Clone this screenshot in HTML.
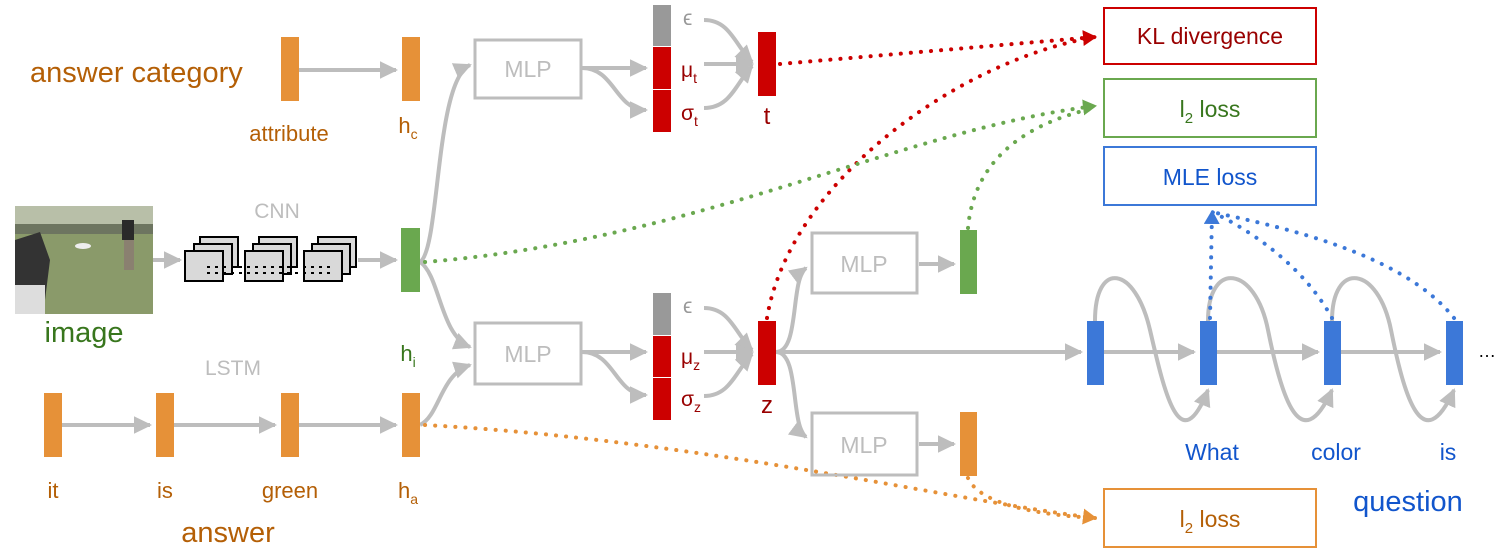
<!DOCTYPE html>
<html><head><meta charset="utf-8"><style>
html,body{margin:0;padding:0;background:#fff;}
svg{display:block;font-family:"Liberation Sans",sans-serif;}
</style></head><body>
<svg width="1502" height="560" viewBox="0 0 1502 560">
<defs>
<marker id="ag" markerWidth="5" markerHeight="5" refX="4" refY="2.2" orient="auto" markerUnits="strokeWidth"><path d="M0,0 L4.5,2.2 L0,4.4 z" fill="#bdbdbd"/></marker>
<marker id="ar" markerWidth="5" markerHeight="5" refX="3" refY="2" orient="auto" markerUnits="strokeWidth"><path d="M0,0 L3.5,2 L0,4 z" fill="#cc0000"/></marker>
<marker id="agr" markerWidth="5" markerHeight="5" refX="3" refY="2" orient="auto" markerUnits="strokeWidth"><path d="M0,0 L3.5,2 L0,4 z" fill="#6aa84f"/></marker>
<marker id="ab" markerWidth="5" markerHeight="5" refX="3" refY="2" orient="auto" markerUnits="strokeWidth"><path d="M0,0 L3.5,2 L0,4 z" fill="#3c78d8"/></marker>
<marker id="ao" markerWidth="5" markerHeight="5" refX="3" refY="2" orient="auto" markerUnits="strokeWidth"><path d="M0,0 L3.5,2 L0,4 z" fill="#e69138"/></marker>
</defs>

<g fill="none" stroke="#bdbdbd" stroke-width="4">
<path d="M298,70 L396,70" marker-end="url(#ag)"/>
<path d="M420,262 C440,250 435,80 470,65" marker-end="url(#ag)"/>
<path d="M420,262 C440,275 440,335 470,347" marker-end="url(#ag)"/>
<path d="M420,425 C440,415 440,375 470,365" marker-end="url(#ag)"/>
<path d="M152,260 L180,260" marker-end="url(#ag)"/>
<path d="M358,260 L396,260" marker-end="url(#ag)"/>
<path d="M62,425 L150,425" marker-end="url(#ag)"/>
<path d="M174,425 L275,425" marker-end="url(#ag)"/>
<path d="M299,425 L396,425" marker-end="url(#ag)"/>
<path d="M582,68 L646,68" marker-end="url(#ag)"/>
<path d="M582,68 C615,68 615,110 646,110" marker-end="url(#ag)"/>
<path d="M582,352 L646,352" marker-end="url(#ag)"/>
<path d="M582,352 C615,352 615,395 646,395" marker-end="url(#ag)"/>
<path d="M704,20 C730,20 735,45 752,62" marker-end="url(#ag)"/>
<path d="M704,64 L752,64" marker-end="url(#ag)"/>
<path d="M704,108 C730,108 735,85 752,66" marker-end="url(#ag)"/>
<path d="M704,308 C730,308 735,333 752,350" marker-end="url(#ag)"/>
<path d="M704,352 L752,352" marker-end="url(#ag)"/>
<path d="M704,396 C730,396 735,372 752,354" marker-end="url(#ag)"/>
<path d="M776,352 C800,352 790,280 806,268" marker-end="url(#ag)"/>
<path d="M776,352 C800,352 790,425 806,437" marker-end="url(#ag)"/>
<path d="M776,352 L1081,352" marker-end="url(#ag)"/>
<path d="M919,264 L954,264" marker-end="url(#ag)"/>
<path d="M919,444 L954,444" marker-end="url(#ag)"/>
<path d="M1104,352 L1194,352" marker-end="url(#ag)"/>
<path d="M1217,352 L1318,352" marker-end="url(#ag)"/>
<path d="M1341,352 L1440,352" marker-end="url(#ag)"/>
<path d="M1095,321 C1095,260 1135,265 1150,330 S1180,460 1208,390" marker-end="url(#ag)"/>
<path d="M1208,321 C1208,260 1255,265 1268,330 S1300,460 1332,390" marker-end="url(#ag)"/>
<path d="M1332,321 C1332,260 1378,265 1391,330 S1422,460 1454,390" marker-end="url(#ag)"/>
</g>

<g fill="none" stroke-width="4" stroke-dasharray="0.1 10" stroke-linecap="round">
<path d="M780,64 L1095,37" stroke="#cc0000" marker-end="url(#ar)"/>
<path d="M767,318 C790,180 960,60 1095,37" stroke="#cc0000"/>
<path d="M425,262 C700,240 900,130 1095,106" stroke="#6aa84f" marker-end="url(#agr)"/>
<path d="M968,228 C975,150 1040,120 1095,108" stroke="#6aa84f"/>
<path d="M1210,318 L1212,212" stroke="#3c78d8" marker-end="url(#ab)"/>
<path d="M1332,318 C1300,260 1240,225 1212,212" stroke="#3c78d8"/>
<path d="M1454,318 C1400,250 1270,225 1212,212" stroke="#3c78d8"/>
<path d="M425,425 C700,440 950,500 1095,518" stroke="#e69138" marker-end="url(#ao)"/>
<path d="M968,478 C980,505 1040,515 1095,518" stroke="#e69138"/>
</g>

<g fill="none" stroke="#bdbdbd" stroke-width="3">
<rect x="475" y="40" width="106" height="58"/>
<rect x="475" y="323" width="106" height="61"/>
<rect x="812" y="233" width="105" height="60"/>
<rect x="812" y="413" width="105" height="62"/>
</g>
<g font-size="23" fill="#bdbdbd" text-anchor="middle">
<text x="528" y="77">MLP</text><text x="528" y="362">MLP</text>
<text x="864" y="272">MLP</text><text x="864" y="453">MLP</text>
<text x="277" y="218" font-size="21">CNN</text>
<text x="233" y="375" font-size="21">LSTM</text>
</g>

<rect x="1104" y="8" width="212" height="56" fill="none" stroke="#cc0000" stroke-width="2"/>
<text x="1210" y="44" font-size="23" fill="#990000" text-anchor="middle">KL divergence</text>
<rect x="1104" y="79" width="212" height="58" fill="none" stroke="#6aa84f" stroke-width="2"/>
<text x="1210" y="117" font-size="23" fill="#38761d" text-anchor="middle">l<tspan font-size="15" dy="6">2</tspan><tspan dy="-6"> loss</tspan></text>
<rect x="1104" y="147" width="212" height="58" fill="none" stroke="#3c78d8" stroke-width="2"/>
<text x="1210" y="185" font-size="23" fill="#1155cc" text-anchor="middle">MLE loss</text>
<rect x="1104" y="489" width="212" height="58" fill="none" stroke="#e69138" stroke-width="2"/>
<text x="1210" y="527" font-size="23" fill="#b45f06" text-anchor="middle">l<tspan font-size="15" dy="6">2</tspan><tspan dy="-6"> loss</tspan></text>

<g fill="#e69138">
<rect x="281" y="37" width="18" height="64"/>
<rect x="402" y="37" width="18" height="64"/>
<rect x="44" y="393" width="18" height="64"/>
<rect x="156" y="393" width="18" height="64"/>
<rect x="281" y="393" width="18" height="64"/>
<rect x="402" y="393" width="18" height="64"/>
<rect x="960" y="412" width="17" height="64"/>
</g>
<g fill="#6aa84f">
<rect x="401" y="228" width="19" height="64"/>
<rect x="960" y="230" width="17" height="64"/>
</g>
<rect x="653" y="5" width="18" height="41" fill="#999"/>
<rect x="653" y="47" width="18" height="42" fill="#cc0000"/>
<rect x="653" y="90" width="18" height="42" fill="#cc0000"/>
<rect x="653" y="293" width="18" height="42" fill="#999"/>
<rect x="653" y="336" width="18" height="41" fill="#cc0000"/>
<rect x="653" y="378" width="18" height="42" fill="#cc0000"/>
<rect x="758" y="32" width="18" height="64" fill="#cc0000"/>
<rect x="758" y="321" width="18" height="64" fill="#cc0000"/>
<g fill="#3c78d8">
<rect x="1087" y="321" width="17" height="64"/>
<rect x="1200" y="321" width="17" height="64"/>
<rect x="1324" y="321" width="17" height="64"/>
<rect x="1446" y="321" width="17" height="64"/>
</g>
<text x="1487" y="357" font-size="18" fill="#000" text-anchor="middle">…</text>

<g>
<rect x="15" y="206" width="138" height="108" fill="#8a9a6a"/>
<rect x="15" y="206" width="138" height="18" fill="#b8bfa8"/>
<rect x="15" y="224" width="138" height="10" fill="#6d7560"/>
<ellipse cx="83" cy="246" rx="8" ry="3" fill="#eee"/>
<path d="M15,240 L40,232 L50,260 L45,300 L30,314 L15,314 z" fill="#333"/>
<rect x="15" y="285" width="30" height="29" fill="#ddd"/>
<rect x="122" y="220" width="12" height="20" fill="#2a2a2a"/>
<rect x="124" y="240" width="10" height="30" fill="#8a8070"/>
</g>
<g fill="#d9d9d9" stroke="#000" stroke-width="2">
<rect x="200" y="237" width="38" height="30"/><rect x="194" y="244" width="38" height="30"/><rect x="185" y="251" width="38" height="30"/>
<rect x="259" y="237" width="38" height="30"/><rect x="253" y="244" width="38" height="30"/><rect x="245" y="251" width="38" height="30"/>
<rect x="318" y="237" width="38" height="30"/><rect x="312" y="244" width="38" height="30"/><rect x="304" y="251" width="38" height="30"/>
</g>
<path d="M207,267 L330,267 M207,273 L330,273" stroke="#000" stroke-width="2" stroke-dasharray="3 5"/>

<g font-size="29" fill="#b45f06">
<text x="30" y="82">answer category</text>
<text x="228" y="542" text-anchor="middle">answer</text>
</g>
<g font-size="22" fill="#b45f06" text-anchor="middle">
<text x="289" y="141">attribute</text>
<text x="408" y="133">h<tspan font-size="14" dy="6">c</tspan></text>
<text x="53" y="498">it</text><text x="165" y="498">is</text><text x="290" y="498">green</text>
<text x="408" y="498">h<tspan font-size="14" dy="6">a</tspan></text>
</g>
<text x="84" y="342" font-size="29" fill="#38761d" text-anchor="middle">image</text>
<text x="408" y="361" font-size="22" fill="#38761d" text-anchor="middle">h<tspan font-size="14" dy="6">i</tspan></text>
<g font-size="21" fill="#990000">
<text x="683" y="25" fill="#999">ϵ</text>
<text x="681" y="77">μ<tspan font-size="14" dy="6">t</tspan></text>
<text x="681" y="120">σ<tspan font-size="14" dy="6">t</tspan></text>
<text x="683" y="313" fill="#999">ϵ</text>
<text x="681" y="364">μ<tspan font-size="14" dy="6">z</tspan></text>
<text x="681" y="406">σ<tspan font-size="14" dy="6">z</tspan></text>
<text x="767" y="124" font-size="24" text-anchor="middle">t</text>
<text x="767" y="413" font-size="24" text-anchor="middle">z</text>
</g>
<g font-size="23" fill="#1155cc" text-anchor="middle">
<text x="1212" y="460">What</text><text x="1336" y="460">color</text><text x="1448" y="460">is</text>
<text x="1408" y="511" font-size="29">question</text>
</g>
</svg>
</body></html>
